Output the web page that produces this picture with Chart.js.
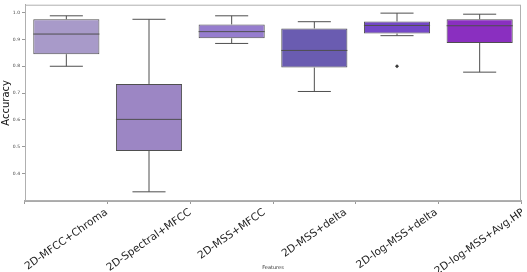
<!DOCTYPE html>
<html lang="en">
<head>
    <meta charset="UTF-8">
    <title>Accuracy by feature set</title>
    <script src="https://cdn.jsdelivr.net/npm/chart.js"></script>
    <style>
        html, body { margin: 0; padding: 0; background: #fff; }
        #wrap { width: 527px; height: 272px; }
    </style>
</head>
<body>
    <div id="wrap"><canvas id="boxChart"></canvas></div>
    <script>
        // values
        const features = ['2D-MFCC+Chroma', '2D-Spectral+MFCC', '2D-MSS+MFCC', '2D-MSS+delta', '2D-log-MSS+delta', '2D-log-MSS+Avg.HP'];
        const whiskerLow = [0.800, 0.332, 0.885, 0.706, 0.914, 0.778];
        const q1 = [0.845, 0.484, 0.904, 0.795, 0.922, 0.887];
        const median = [0.920, 0.602, 0.929, 0.859, 0.952, 0.951];
        const q3 = [0.975, 0.734, 0.956, 0.941, 0.967, 0.975];
        const whiskerHigh = [0.988, 0.975, 0.988, 0.966, 0.998, 0.994];
        const outliers = [null, null, null, null, 0.800, null];
        const yTicks = [0.4, 0.5, 0.6, 0.7, 0.8, 0.9, 1.0];

        const boxColors = ['#a89ac9', '#9c86c4', '#967dce', '#6a5cb1', '#7448c8', '#8a2fc0'];
        const lineColor = '#4f4f4f';

        // whiskers, medians, frame and centred rotated labels
        const boxExtras = {
            id: 'boxExtras',
            afterDatasetsDraw(chart) {
                const ctx = chart.ctx;
                const x = chart.scales.x, y = chart.scales.y;
                const bars = chart.getDatasetMeta(0).data;
                ctx.save();
                ctx.strokeStyle = lineColor;
                ctx.lineWidth = 1;
                features.forEach((f, i) => {
                    const cx = x.getPixelForValue(i);
                    const half = bars[i].width / 2;
                    const yLo = y.getPixelForValue(whiskerLow[i]);
                    const yQ1 = y.getPixelForValue(q1[i]);
                    const yMed = y.getPixelForValue(median[i]);
                    const yQ3 = y.getPixelForValue(q3[i]);
                    const yHi = y.getPixelForValue(whiskerHigh[i]);
                    ctx.beginPath();
                    ctx.moveTo(cx, yQ3); ctx.lineTo(cx, yHi);
                    ctx.moveTo(cx - half / 2, yHi); ctx.lineTo(cx + half / 2, yHi);
                    ctx.moveTo(cx, yQ1); ctx.lineTo(cx, yLo);
                    ctx.moveTo(cx - half / 2, yLo); ctx.lineTo(cx + half / 2, yLo);
                    ctx.moveTo(cx - half, yMed); ctx.lineTo(cx + half, yMed);
                    ctx.stroke();
                });
                const a = chart.chartArea;
                ctx.strokeStyle = '#b0b0b0';
                ctx.strokeRect(a.left + 0.5, a.top + 0.5, a.right - a.left - 1, a.bottom - a.top - 1);

                // x labels, rotated, centred under each tick
                ctx.fillStyle = '#222';
                ctx.font = '10.5px "DejaVu Sans"';
                ctx.textAlign = 'center';
                ctx.textBaseline = 'middle';
                const ang = 35 * Math.PI / 180;
                features.forEach((f, i) => {
                    const w = ctx.measureText(f).width;
                    const h = 10.5;
                    const bh = w * Math.sin(ang) + h * Math.cos(ang);
                    ctx.save();
                    ctx.translate(x.getPixelForValue(i), a.bottom + 6 + bh / 2);
                    ctx.rotate(-ang);
                    ctx.fillText(f, 0, 0);
                    ctx.restore();
                });
                ctx.restore();
            }
        };

        new Chart(document.getElementById('boxChart'), {
            type: 'bar',
            data: {
                labels: features,
                datasets: [{
                    label: 'IQR',
                    data: features.map((f, i) => [q1[i], q3[i]]),
                    backgroundColor: boxColors,
                    borderColor: lineColor,
                    borderWidth: 1,
                    borderSkipped: false,
                    categoryPercentage: 0.8,
                    barPercentage: 1.0
                }, {
                    type: 'line',
                    label: 'Outliers',
                    data: outliers,
                    showLine: false,
                    pointStyle: 'rectRot',
                    pointRadius: 2,
                    pointBackgroundColor: '#3a3a3a',
                    pointBorderColor: '#3a3a3a',
                    borderWidth: 0
                }]
            },
            options: {
                responsive: true,
                maintainAspectRatio: false,
                animation: false,
                layout: { padding: { top: 2, right: 6, left: 0, bottom: 0 } },
                plugins: {
                    legend: { display: false },
                    tooltip: { enabled: false }
                },
                scales: {
                    x: {
                        grid: { drawOnChartArea: false, drawTicks: true, tickLength: 3, color: '#999' },
                        border: { display: true, color: '#aaa', width: 2 },
                        ticks: { display: false },
                        title: {
                            display: true,
                            text: 'Features',
                            color: '#333',
                            font: { family: 'DejaVu Sans', size: 5 },
                            padding: { top: 0, bottom: 1 }
                        },
                        afterFit(scale) { scale.height = 71; }
                    },
                    y: {
                        min: 0.2978,
                        max: 1.0294,
                        afterBuildTicks(scale) { scale.ticks = yTicks.map(v => ({ value: v })); },
                        grid: { drawOnChartArea: false, drawTicks: true, tickLength: 3, color: '#999' },
                        border: { display: true, color: '#aaa', width: 1 },
                        ticks: {
                            color: '#444',
                            padding: 2,
                            font: { family: 'DejaVu Sans', size: 4.5 },
                            callback: v => v.toFixed(1)
                        },
                        title: {
                            display: true,
                            text: 'Accuracy',
                            color: '#111',
                            font: { family: 'DejaVu Sans', size: 10 },
                            padding: 0
                        },
                        afterFit(scale) { scale.width = 25; }
                    }
                }
            },
            plugins: [boxExtras]
        });
    </script>
</body>
</html>
